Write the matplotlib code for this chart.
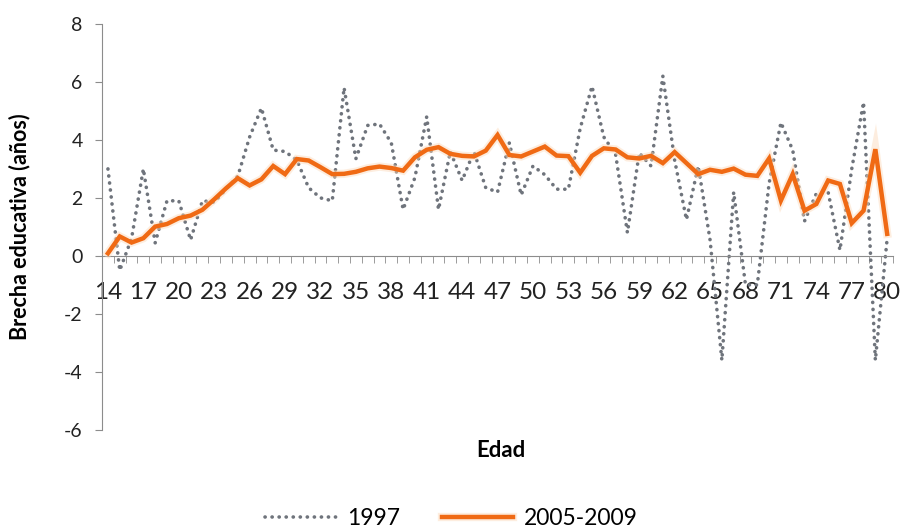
import matplotlib
matplotlib.use("Agg")
import matplotlib.pyplot as plt
import matplotlib.patheffects as pe
import numpy as np

plt.rcParams['font.family'] = ['Lato', 'DejaVu Sans']

ages = list(range(14, 81))
brecha_1997 = [3.0, -0.5, 0.6, 3.0, 0.45, 1.9, 1.9, 0.55, 1.9, 1.85,
               2.3, 2.75, 4.1, 5.1, 3.65, 3.6, 3.3, 2.35, 2.0, 1.9,
               5.8, 3.35, 4.5, 4.55, 3.9, 1.6, 2.7, 4.8, 1.6, 3.6,
               2.6, 3.6, 2.35, 2.2, 3.9, 2.1, 3.1, 2.8, 2.3, 2.3,
               4.4, 5.85, 4.1, 3.5, 0.8, 3.55, 3.1, 6.2, 3.3, 1.25,
               3.1, 0.55, -3.6, 2.2, -1.0, -1.0, 2.5, 4.6, 3.65, 1.2,
               2.15, 2.2, 0.2, 3.0, 5.3, -3.6, 0.6]
brecha_2005_2009 = [0.09, 0.67, 0.46, 0.61, 1.01, 1.10, 1.30, 1.39, 1.59, 1.95,
                    2.33, 2.68, 2.43, 2.64, 3.10, 2.82, 3.34, 3.29, 3.06, 2.82,
                    2.83, 2.90, 3.02, 3.08, 3.03, 2.94, 3.40, 3.66, 3.75, 3.52,
                    3.45, 3.43, 3.63, 4.17, 3.48, 3.43, 3.60, 3.77, 3.46, 3.44,
                    2.87, 3.45, 3.71, 3.67, 3.40, 3.36, 3.45, 3.20, 3.58, 3.20,
                    2.82, 2.97, 2.90, 3.01, 2.80, 2.76, 3.36, 1.91, 2.82, 1.56,
                    1.79, 2.60, 2.48, 1.13, 1.56, 3.68, 0.76]
xtick_labels = [str(a) for a in range(14, 81, 3)]
ytick_values = [-6, -4, -2, 0, 2, 4, 6, 8]
ytick_labels = ['-6', '-4', '-2', '0', '2', '4', '6', '8']

fig = plt.figure(figsize=(9.03, 5.32), dpi=100)
ax = fig.add_axes([0.113, 0.192, 0.876, 0.763])

gray = '#6F747C'
orange = '#F06A14'

ax.plot(ages, brecha_1997, color=gray, lw=2.6, linestyle=(0, (0.05, 1.9)),
        dash_capstyle='round', solid_capstyle='round', label='1997', zorder=2)
ax.plot(ages, brecha_2005_2009, color=orange, lw=3.2, solid_joinstyle='miter',
        label='2005-2009', zorder=3,
        path_effects=[pe.Stroke(linewidth=6, foreground='#FCD9B8', alpha=0.45), pe.Normal()])

ax.set_xlim(13.5, 80.5)
ax.set_ylim(-6, 8)

for s in ['top', 'right']:
    ax.spines[s].set_visible(False)
ax.spines['bottom'].set_position(('data', 0))
ax.spines['bottom'].set_color('#8C8C8C')
ax.spines['left'].set_color('#8C8C8C')

ax.set_xticks(list(range(14, 81, 3)))
ax.set_xticklabels(xtick_labels, fontsize=17.5, color='#222222')
ax.set_xticks(np.arange(13.5, 81, 1.0), minor=True)
ax.tick_params(axis='x', which='major', length=0, pad=19)
ax.tick_params(axis='x', which='minor', length=5, color='#8C8C8C', direction='out')

ax.set_yticks(ytick_values)
ax.set_yticklabels(ytick_labels, fontsize=14, color='#222222')
ax.tick_params(axis='y', length=5, color='#8C8C8C', direction='out', pad=9)

ax.set_ylabel('Brecha educativa (años)', fontsize=15.5, fontweight='bold', labelpad=24)
fig.text(0.555, 0.154, 'Edad', fontsize=16, fontweight='bold', ha='center', va='center')

fig.legend(loc='center', bbox_to_anchor=(0.50, 0.026), ncol=2, frameon=False,
           fontsize=16.5, handlelength=3.1, columnspacing=1.8, handletextpad=0.5)

fig.savefig('out.png', dpi=100)
